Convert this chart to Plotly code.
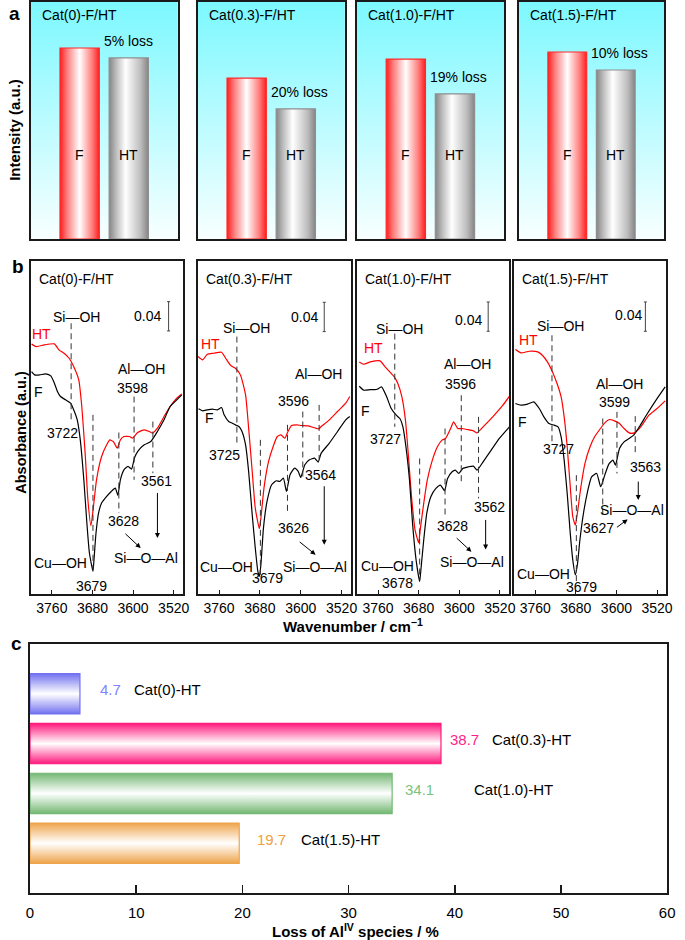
import plotly.graph_objects as go

W, H = 685, 940
FONT = "Arial, Liberation Sans, sans-serif"

# ---------------- Panel a: band intensity, fresh (F) vs hydrothermally treated (HT)
a_titles = ["Cat(0)-F/HT", "Cat(0.3)-F/HT", "Cat(1.0)-F/HT", "Cat(1.5)-F/HT"]
a_bar_names = ["F", "HT"]
a_fresh = [80.6, 67.9, 75.9, 78.9]
a_ht = [76.4, 54.9, 61.2, 71.3]
a_loss_pct = [5, 20, 19, 10]

# ---------------- Panel b: IR spectra (absorbance in units where 88 = 0.04 a.u.)
b_ticks = [3760, 3680, 3600, 3520]
SCALE_BAR = 88          # 0.04 a.u.
SCALE_LABEL = "0.04"

ht0_wn = [3800, 3791, 3775, 3755, 3746, 3736, 3726, 3717, 3707, 3701, 3694, 3689, 3683, 3678, 3672, 3662,
          3652, 3646, 3639, 3631, 3625, 3618, 3607, 3601, 3591, 3578, 3568, 3562, 3552, 3539, 3527, 3514, 3504]
ht0_ab = [751, 743, 748, 751, 733, 723, 708, 683, 643, 563, 413, 283, 205, 263, 343, 413,
          448, 463, 458, 438, 463, 473, 473, 468, 485, 493, 488, 483, 498, 533, 563, 588, 601]
f0_wn = [3800, 3794, 3784, 3772, 3762, 3755, 3749, 3743, 3733, 3723, 3717, 3710, 3704, 3697, 3691, 3686,
         3679, 3677, 3673, 3668, 3662, 3652, 3643, 3635, 3630, 3625, 3618, 3610, 3603, 3597, 3590, 3578,
         3565, 3552, 3539, 3527, 3514, 3504]
f0_ab = [668, 658, 658, 661, 655, 633, 608, 593, 583, 573, 553, 523, 463, 343, 213, 123,
         68, 103, 183, 243, 273, 293, 308, 318, 296, 343, 373, 383, 375, 410, 430, 448,
         458, 488, 523, 563, 583, 598]

ht1_wn = [3801, 3792, 3783, 3770, 3755, 3747, 3737, 3728, 3718, 3708, 3702, 3695, 3689, 3681, 3678, 3672,
          3663, 3654, 3646, 3639, 3631, 3625, 3618, 3608, 3599, 3586, 3565, 3560, 3544, 3528, 3512, 3504]
ht1_ab = [713, 703, 720, 723, 726, 708, 686, 678, 658, 598, 498, 368, 258, 196, 228, 318,
          398, 443, 473, 478, 468, 488, 506, 508, 506, 505, 496, 503, 523, 548, 573, 593]
f1_wn = [3800, 3792, 3783, 3773, 3763, 3755, 3750, 3741, 3734, 3728, 3721, 3715, 3708, 3702, 3695, 3689,
         3684, 3681, 3678, 3673, 3666, 3657, 3648, 3641, 3634, 3628, 3621, 3612, 3605, 3600, 3592, 3583,
         3573, 3566, 3560, 3544, 3528, 3512, 3504]
f1_ab = [556, 550, 553, 555, 553, 560, 538, 518, 513, 508, 503, 488, 448, 368, 238, 138,
         68, 53, 88, 198, 278, 328, 340, 338, 348, 308, 358, 378, 368, 350, 388, 403,
         408, 396, 423, 453, 488, 523, 533]

ht2_wn = [3797, 3788, 3775, 3756, 3746, 3737, 3728, 3721, 3713, 3706, 3700, 3694, 3687, 3680, 3677, 3670,
          3663, 3653, 3643, 3634, 3627, 3617, 3611, 3603, 3595, 3585, 3572, 3565, 3553, 3534, 3514, 3501]
ht2_ab = [697, 690, 697, 700, 682, 667, 652, 632, 592, 522, 412, 292, 192, 154, 192, 272,
          342, 402, 442, 462, 467, 497, 517, 497, 497, 494, 490, 484, 502, 532, 567, 594]
f2_wn = [3797, 3788, 3775, 3763, 3753, 3743, 3734, 3724, 3717, 3711, 3705, 3698, 3692, 3685, 3678, 3675,
         3670, 3664, 3656, 3646, 3637, 3629, 3623, 3614, 3608, 3601, 3593, 3582, 3572, 3565, 3553, 3537,
         3521, 3501]
f2_ab = [624, 612, 614, 614, 622, 592, 557, 537, 527, 502, 442, 342, 212, 102, 37, 82,
         162, 242, 292, 317, 327, 310, 347, 367, 372, 362, 377, 382, 384, 372, 397, 432,
         467, 502]

ht3_wn = [3799, 3788, 3772, 3755, 3746, 3736, 3726, 3717, 3709, 3703, 3697, 3691, 3686, 3681, 3677, 3670,
          3662, 3652, 3643, 3633, 3623, 3614, 3604, 3594, 3585, 3575, 3565, 3552, 3536, 3520, 3504]
ht3_ab = [734, 724, 729, 727, 717, 697, 667, 632, 592, 532, 442, 322, 232, 207, 242, 322,
          392, 442, 472, 494, 514, 524, 520, 512, 497, 484, 484, 502, 537, 557, 580]
f3_wn = [3799, 3788, 3775, 3763, 3752, 3743, 3733, 3723, 3715, 3709, 3703, 3697, 3691, 3686, 3681, 3677,
         3672, 3665, 3657, 3649, 3639, 3631, 3623, 3615, 3607, 3602, 3594, 3585, 3575, 3566, 3555, 3539,
         3523, 3504]
f3_ab = [572, 567, 570, 577, 557, 532, 512, 507, 502, 472, 402, 302, 182, 102, 57, 87,
         162, 242, 307, 352, 362, 322, 357, 390, 402, 387, 437, 457, 467, 477, 502, 542,
         580, 622]

b_ht = [(ht0_wn, ht0_ab), (ht1_wn, ht1_ab), (ht2_wn, ht2_ab), (ht3_wn, ht3_ab)]
b_f = [(f0_wn, f0_ab), (f1_wn, f1_ab), (f2_wn, f2_ab), (f3_wn, f3_ab)]
# peak positions: Si-OH, Cu-OH, 36xx, Al-OH, Si-O-Al
b_peaks = [[3722, 3679, 3628, 3598, 3561],
           [3725, 3679, 3626, 3596, 3564],
           [3727, 3678, 3628, 3596, 3562],
           [3727, 3679, 3627, 3599, 3563]]

# ---------------- Panel c: loss of Al(IV) species
c_labels = ["Cat(0)-HT", "Cat(0.3)-HT", "Cat(1.0)-HT", "Cat(1.5)-HT"]
c_values = [4.7, 38.7, 34.1, 19.7]
c_colors = ["#7272f0", "#ff1a7c", "#74b874", "#eea54c"]
c_text_colors = ["#8282ff", "#ff1f8a", "#7cc27c", "#f0a040"]

# ======================= layout helpers =======================
def sfx(k):
    return "" if k == 1 else str(k)

def px(x):
    return x / W

def py(y):
    return 1 - y / H

layout_axes = {}
traces = []
annotations = []
shapes = []

AX_LINE = dict(showline=True, linecolor="#1a1a1a", linewidth=2, mirror=True,
               zeroline=False, showgrid=False, fixedrange=True)
NOTICK = dict(showticklabels=False, ticks="")


def add_axes(k, box, xr, yr, xextra, yextra):
    l, r, t, b = box
    xa = dict(domain=[px(l), px(r)], range=xr, anchor="y" + sfx(k), **AX_LINE)
    ya = dict(domain=[py(b), py(t)], range=yr, anchor="x" + sfx(k), **AX_LINE)
    xa.update(xextra)
    ya.update(yextra)
    layout_axes["xaxis" + sfx(k)] = xa
    layout_axes["yaxis" + sfx(k)] = ya


def text(t, x, y, xref="paper", yref="paper", size=14, color="black", xanchor="center",
         yanchor="middle", bold=False, angle=0):
    annotations.append(dict(text=("<b>%s</b>" % t) if bold else t, x=x, y=y, xref=xref, yref=yref,
                            showarrow=False, xanchor=xanchor, yanchor=yanchor, textangle=angle,
                            font=dict(size=size, color=color, family=FONT)))

# ======================= Panel a =======================
a_boxes = [(27, 177), (197, 347), (359, 509), (524, 672)]
A_TOP, A_BOT = 2, 239
BAR_W = 0.8
BG_SCALE = [[0, "#f8ffff"], [1, "#7cf8ff"]]
F_SCALE = [[0, "#ff1e1e"], [0.18, "#ff7d7d"], [0.5, "#ffffff"], [0.82, "#ff7d7d"], [1, "#ff1e1e"]]
HT_SCALE = [[0, "#858585"], [0.18, "#bdbdbd"], [0.42, "#ffffff"], [0.8, "#bdbdbd"], [1, "#858585"]]

for i in range(4):
    k = i + 1
    add_axes(k, (a_boxes[i][0], a_boxes[i][1], A_TOP, A_BOT), [0, 3], [0, 100], NOTICK, NOTICK)
    xr, yr = "x" + sfx(k), "y" + sfx(k)
    traces.append(go.Scatter(x=[0, 3, 3, 0, 0], y=[0, 0, 100, 100, 0], mode="lines", fill="toself",
                             fillgradient=dict(type="vertical", colorscale=BG_SCALE),
                             line=dict(width=0), hoverinfo="skip", xaxis=xr, yaxis=yr))
    vals = [a_fresh[i], a_ht[i]]
    for j, (val, name, cs, edge) in enumerate(zip(vals, a_bar_names, [F_SCALE, HT_SCALE],
                                                  ["#ff2a2a", "#8f8f8f"])):
        c = j + 1
        x0, x1 = c - BAR_W / 2, c + BAR_W / 2
        traces.append(go.Scatter(x=[x0, x1, x1, x0, x0], y=[0, 0, val, val, 0], mode="lines",
                                 fill="toself", fillgradient=dict(type="horizontal", colorscale=cs),
                                 line=dict(color=edge, width=1.2), hoverinfo="skip",
                                 xaxis=xr, yaxis=yr))
        text(name, c, 35.5, xr, yr)
    text(a_titles[i], 0.065, 0.945, xr + " domain", yr + " domain", xanchor="left")
    text("%d%% loss" % a_loss_pct[i], 1 + BAR_W / 2 + 0.05, a_ht[i] + 7, xr, yr, xanchor="left")

text("a", px(11), py(13), size=19, bold=True)
text("Intensity (a.u.)", px(10.5), py(129.5), size=15, bold=True, angle=-90)

# ======================= Panel b =======================
b_boxes = [(27, 182), (197, 353), (359, 514), (519, 674)]
B_TOP, B_BOT = 261, 594
b_pos = [
    dict(ht=(3780, 780), f=(3786, 608), sioh=(3712, 831), aloh=(3583, 675), cuoh=(3743, 93),
         sioal=(3575, 108), scale=(3530, 790), scale_txt=(3572, 835),
         lines=[(813, 518), (538, 73), (485, 243), (593, 343), (518, 363)],
         labels=[(3739, 483), (3681, 23), (3618, 218), (3602, 618), (3554, 338)],
         down=(3552, 308, 168), diag=((3618, 185), (3585, 138))),
    dict(ht=(3776, 750), f=(3778, 528), sioh=(3706, 800), aloh=(3566, 660), cuoh=(3746, 80),
         sioal=(3573, 80), scale=(3554, 788), scale_txt=(3592, 833),
         lines=[(773, 453), (463, 58), (508, 248), (548, 353), (568, 406)],
         labels=[(3750, 418), (3666, 48), (3614, 198), (3615, 581), (3561, 358)],
         down=(3554, 328, 148), diag=((3605, 160), (3571, 118))),
    dict(ht=(3768, 740), f=(3785, 550), sioh=(3717, 797), aloh=(3584, 690), cuoh=(3741, 84),
         sioal=(3574, 97), scale=(3543, 789), scale_txt=(3581, 824),
         lines=[(782, 502), (407, 42), (497, 237), (597, 337), (532, 287)],
         labels=[(3745, 464), (3722, 34), (3614, 204), (3598, 630), (3541, 262)],
         down=(3548, 227, 134), diag=((3608, 172), (3576, 127))),
    dict(ht=(3773, 764), f=(3786, 517), sioh=(3710, 804), aloh=(3594, 632), cuoh=(3743, 59),
         sioal=(3570, 252), scale=(3543, 789), scale_txt=(3577, 837),
         lines=[(777, 447), (357, 32), (527, 232), (547, 362), (534, 422)],
         labels=[(3715, 434), (3668, 22), (3635, 197), (3604, 577), (3542, 380)],
         down=(3557, 342, 282), diag=((3602, 197), (3578, 224))),
]

for i in range(4):
    k = i + 5
    add_axes(k, (b_boxes[i][0], b_boxes[i][1], B_TOP, B_BOT), [3802, 3502], [0, 1000],
             dict(tickvals=b_ticks, ticks="inside", ticklen=4, tickwidth=1, tickcolor="#1a1a1a",
                  tickfont=dict(size=14, color="black", family=FONT)),
             NOTICK)
    xr, yr = "x" + sfx(k), "y" + sfx(k)
    traces.append(go.Scatter(x=b_ht[i][0], y=b_ht[i][1], mode="lines",
                             line=dict(color="#ff0000", width=1.2, shape="spline", smoothing=0.5),
                             hoverinfo="skip", xaxis=xr, yaxis=yr))
    traces.append(go.Scatter(x=b_f[i][0], y=b_f[i][1], mode="lines",
                             line=dict(color="#000000", width=1.2, shape="spline", smoothing=0.5),
                             hoverinfo="skip", xaxis=xr, yaxis=yr))
    P = b_pos[i]
    text(a_titles[i], 0.04, 0.945, xr + " domain", yr + " domain", xanchor="left")
    text("HT", P["ht"][0], P["ht"][1], xr, yr, color="#ff0000")
    text("F", P["f"][0], P["f"][1], xr, yr)
    text("Si\u2014OH", P["sioh"][0], P["sioh"][1], xr, yr)
    text("Al\u2014OH", P["aloh"][0], P["aloh"][1], xr, yr)
    text("Cu\u2014OH", P["cuoh"][0], P["cuoh"][1], xr, yr)
    text("Si\u2014O\u2014Al", P["sioal"][0], P["sioal"][1], xr, yr)
    text(SCALE_LABEL, P["scale_txt"][0], P["scale_txt"][1], xr, yr)
    for wn, (y0, y1), lab in zip(b_peaks[i], P["lines"], P["labels"]):
        shapes.append(dict(type="line", x0=wn, x1=wn, y0=y0, y1=y1, xref=xr, yref=yr,
                           line=dict(color="#333333", width=1, dash="6px,4px")))
        text(str(wn), lab[0], lab[1], xr, yr)
    sx, sy = P["scale"]
    shapes.append(dict(type="line", x0=sx, x1=sx, y0=sy, y1=sy + SCALE_BAR, xref=xr, yref=yr,
                       line=dict(color="#444444", width=1)))
    for yy in (sy, sy + SCALE_BAR):
        shapes.append(dict(type="line", x0=sx - 3, x1=sx + 3, y0=yy, y1=yy, xref=xr, yref=yr,
                           line=dict(color="#444444", width=1)))
    dx, dy0, dy1 = P["down"]
    (tx, ty), (hx, hy) = P["diag"]
    for (ax_, ay_, x_, y_) in [(dx, dy0, dx, dy1), (tx, ty, hx, hy)]:
        annotations.append(dict(text="", x=x_, y=y_, ax=ax_, ay=ay_, xref=xr, yref=yr,
                                axref=xr, ayref=yr, showarrow=True, arrowhead=2, arrowsize=1,
                                arrowwidth=1, arrowcolor="black"))

text("b", px(14), py(266), size=19, bold=True)
text("Absorbance (a.u.)", px(16.5), py(432.5), size=14.5, bold=True, angle=-90)
text("Wavenumber / cm<sup>\u22121</sup>", px(355), py(625), size=15, bold=True)

# ======================= Panel c =======================
k = 9
add_axes(k, (26.5, 675, 644, 893), [0, 60], [4, -1],
         dict(tickvals=[0, 10, 20, 30, 40, 50, 60], ticks="inside", ticklen=8, tickwidth=1.5,
              tickcolor="#1a1a1a", tickfont=dict(size=15, color="black", family=FONT),
              ticklabelstandoff=5),
         NOTICK)
xr, yr = "x9", "y9"
C_BAR_H = 0.81
c_val_text_x = [6.4, 39.35, 35.1, 21.2]
c_cat_text_x = [9.6, 43.3, 41.6, 25.3]
for i, (lab, v, col, tcol) in enumerate(zip(c_labels, c_values, c_colors, c_text_colors)):
    y0, y1 = i - C_BAR_H / 2, i + C_BAR_H / 2
    traces.append(go.Scatter(x=[0, v, v, 0, 0], y=[y0, y0, y1, y1, y0], mode="lines", fill="toself",
                             fillgradient=dict(type="vertical",
                                               colorscale=[[0, col], [0.5, "#ffffff"], [1, col]]),
                             line=dict(color=col, width=1.2), hoverinfo="skip", xaxis=xr, yaxis=yr))
    text("%.1f" % v, c_val_text_x[i], i - 0.08, xr, yr, size=15, color=tcol, xanchor="left")
    text(lab, c_cat_text_x[i], i - 0.08, xr, yr, size=15, xanchor="left")

text("c", px(13), py(643), size=19, bold=True)
text("Loss of Al<sup>IV</sup> species / %", px(358), py(930), size=15, bold=True)

fig = go.Figure(data=traces)
fig.update_layout(width=W, height=H, margin=dict(l=0, r=0, t=0, b=0),
                  paper_bgcolor="white", plot_bgcolor="white", showlegend=False,
                  font=dict(family=FONT, size=14, color="black"),
                  annotations=annotations, shapes=shapes, **layout_axes)
fig.write_html("out.html", config={"displayModeBar": False, "staticPlot": True},
               post_script="document.body.style.margin='0px';document.body.style.overflow='hidden';")
